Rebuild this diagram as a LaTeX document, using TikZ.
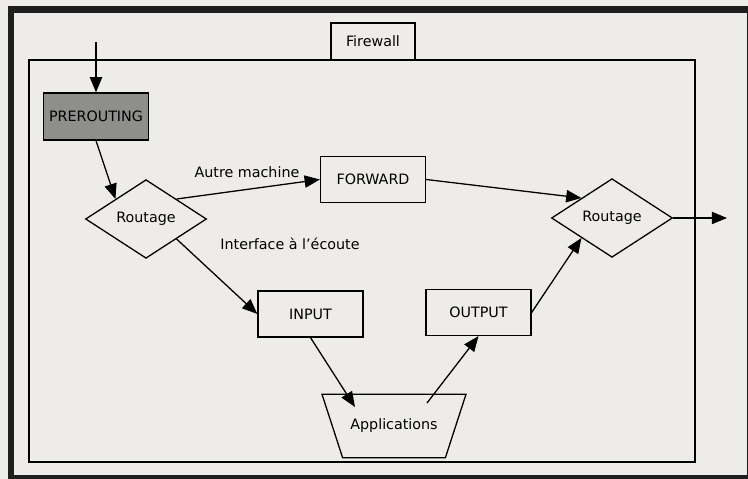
\documentclass[tikz,border=0pt]{standalone}
\usepackage{fontspec}
\setmainfont{DejaVu Sans}
\usetikzlibrary{shapes.geometric,arrows.meta}
\definecolor{papier}{HTML}{EEECE8}
\definecolor{grisfonce}{HTML}{8E8E8C}
\definecolor{cadre}{HTML}{1E1E1E}

\begin{document}
\begin{tikzpicture}[>={Triangle[length=13pt,width=10.5pt]},x=0.03cm,y=-0.03cm,
	every node/.style={font=\fontsize{12.2}{14}\selectfont},
	chaine/.style={draw,line width=1.1pt,minimum width=3.15cm,minimum height=1.38cm,inner sep=0pt},
	routage/.style={draw,line width=1.1pt,diamond,minimum width=3.63cm,minimum height=2.36cm,inner sep=0pt},
	appli/.style={draw,line width=1.1pt,trapezium,shape border rotate=180,trapezium angle=72,trapezium stretches body,minimum width=4.32cm,inner xsep=0pt,inner ysep=21.2pt},
	fleche/.style={->,line width=1.1pt}]
		\useasboundingbox (0,0) rectangle (748,479);
		\fill[papier] (0,0) rectangle (748,479);
		\draw[cadre,line width=5.5pt] (11,9.5) rectangle (750,478);
		\draw[line width=1.1pt] (29,60) rectangle (695,462);
		\node[draw,line width=1.1pt,fill=papier,minimum width=2.52cm,minimum height=1.11cm] (fw) at (373,41.5) {Firewall};
		
		\coordinate (entree) at (96,42);
		\coordinate (sortie) at (727,218);
		\node[chaine,fill=grisfonce,minimum height=1.41cm] (pre) at (96,116.5) {PREROUTING};
		\node[routage] (rt1) at (146,219) {Routage};
		\node[chaine] (fwd) at (373,179.5) {FORWARD};
		\node[routage] (rt2) at (612,218) {Routage};
		\node[chaine] (inp) at (310.5,314) {INPUT};
		\node[chaine] (outp) at (478.5,312.5) {OUTPUT};
		\node[appli] (app) at (394,426) {Applications};
		\node (autre) at (247,172) {Autre machine};
		\node (ecoute) at (290,244) {Interface à l'écoute};
		
		\draw[fleche] (entree) -- (pre);
		\draw[fleche] (pre.south) -- (rt1.north west);
		\draw[fleche] (rt1.north east) -- (fwd.west);
		\draw[fleche] (fwd.east) -- (rt2.north west);
		\draw[fleche] (rt2) -- (sortie);
		\draw[fleche] (rt1.south east) -- (inp.west);
		\draw[fleche] (inp.south) -- ([shift={(-39,-19)}]app.center);
		\draw[fleche] ([shift={(33,-23)}]app.center) -- (outp.south);
		\draw[fleche] (outp.east) -- (rt2.south west); % retour vers le routage
		
\end{tikzpicture}
\end{document}
